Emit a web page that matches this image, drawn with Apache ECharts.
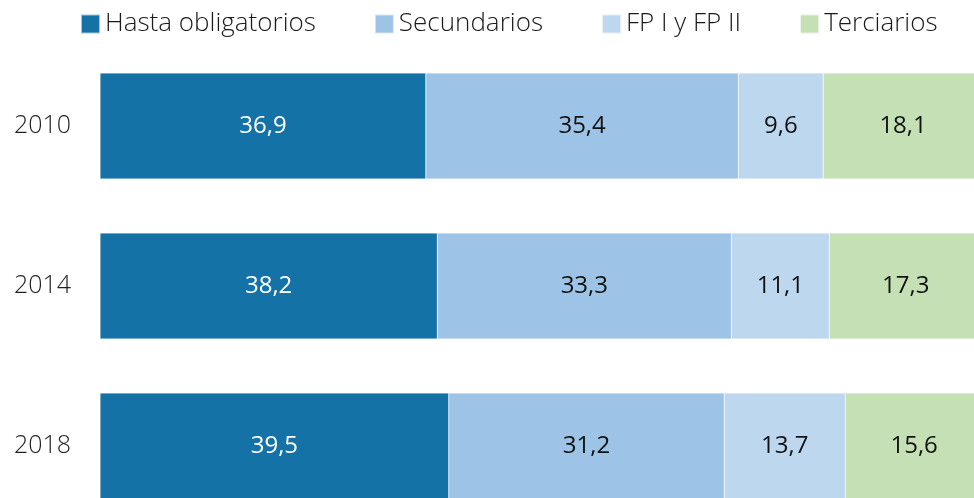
<!DOCTYPE html>
<html>
<head>
<meta charset="utf-8">
<script src="https://cdn.jsdelivr.net/npm/echarts@6/dist/echarts.min.js"></script>
<style>
html, body { margin: 0; padding: 0; background: #fff; }
#box1 { width: 974px; height: 498px; }
</style>
</head>
<body>
<div id="box1"></div>
<script>
var years = ['2010', '2014', '2018'];
var seriesNames = ['Hasta obligatorios', 'Secundarios', 'FP I y FP II', 'Terciarios'];
var hastaObligatorios = [36.9, 38.2, 39.5];
var secundarios = [35.4, 33.3, 31.2];
var fpIyII = [9.6, 11.1, 13.7];
var terciarios = [18.1, 17.3, 15.6];

var colors = ['#1572a6', '#9dc3e6', '#bdd7ee', '#c5e0b4'];
var labelColors = ['#ffffff', '#111111', '#111111', '#111111'];
var values = [hastaObligatorios, secundarios, fpIyII, terciarios];

var chart = echarts.init(document.getElementById('box1'));

var series = [];
for (var i = 0; i < seriesNames.length; i++) {
    series.push({
        name: seriesNames[i],
        type: 'bar',
        stack: 'total',
        barWidth: 106,
        data: values[i],
        itemStyle: { color: colors[i], borderColor: 'rgba(255,255,255,0.6)', borderWidth: 0.5 },
        label: {
            show: true,
            position: 'inside',
            color: labelColors[i],
            fontFamily: 'Open Sans',
            fontWeight: 400,
            fontSize: 24,
            formatter: function (p) { return p.value.toFixed(1).replace('.', ','); }
        }
    });
}

var option = {
    animation: false,
    color: colors,
    legend: {
        left: 80,
        top: 11,
        padding: 0,
        itemWidth: 19,
        itemHeight: 19,
        itemGap: 58,
        icon: 'rect',
        textStyle: {
            fontFamily: 'Open Sans',
            fontWeight: 300,
            fontSize: 26,
            color: '#1a1a1a',
            padding: [0, 0, 0, 0]
        },
        data: seriesNames
    },
    grid: {
        left: 100,
        top: 46,
        width: 883,
        height: 480,
        outerBoundsMode: 'none'
    },
    xAxis: {
        type: 'value',
        min: 0,
        max: 100,
        show: false
    },
    yAxis: {
        type: 'category',
        inverse: true,
        data: years,
        axisLine: { show: false },
        axisTick: { show: false },
        axisLabel: {
            margin: 29,
            fontFamily: 'Open Sans',
            fontWeight: 300,
            fontSize: 25,
            color: '#222'
        }
    },
    series: series
};

chart.setOption(option);
</script>
</body>
</html>
